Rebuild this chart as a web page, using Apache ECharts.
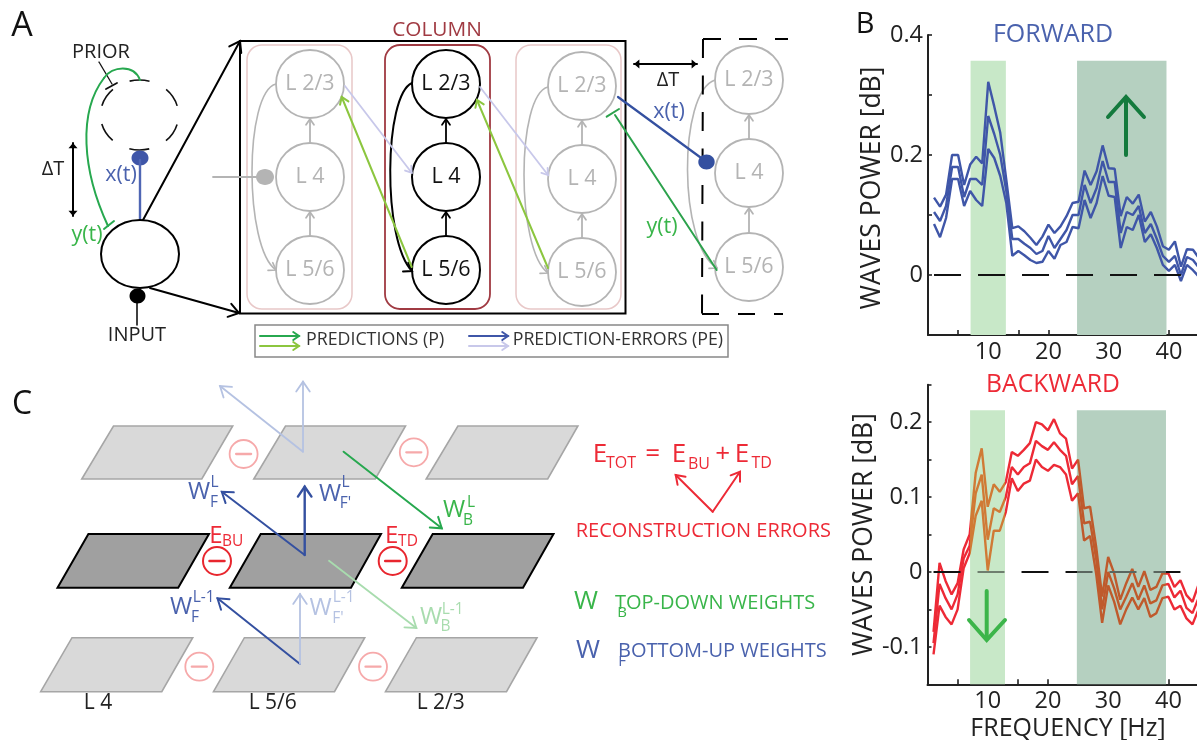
<!DOCTYPE html>
<html><head><meta charset="utf-8">
<style>html,body{margin:0;padding:0;background:#fff}#c{width:1197px;height:740px}</style>
<script src="https://cdn.jsdelivr.net/npm/echarts@6/dist/echarts.min.js"></script>
</head><body><div id="c"></div>
<script>
const hz=[1,2,3,4,5,6,7,8,9,10,11,12,13,14,15,16,17,18,19,20,21,22,23,24,25,26,27,28,29,30,31,32,33,34,35,36,37,38,39,40,41,42,43,44,45];
const forwardUpper=[.129,.114,.134,.2,.2,.15,.184,.197,.186,.322,.281,.237,.159,.078,.081,.073,.062,.05,.064,.084,.07,.081,.098,.12,.122,.174,.15,.173,.216,.178,.177,.098,.13,.119,.134,.089,.105,.081,.048,.042,.056,.014,.043,.042,.028];
const forwardMean=[.105,.09,.115,.18,.18,.13,.16,.16,.15,.265,.235,.2,.14,.06,.06,.052,.045,.035,.04,.065,.045,.06,.075,.1,.1,.15,.12,.145,.19,.155,.155,.07,.105,.1,.115,.07,.085,.06,.032,.022,.032,0,.03,.025,.012];
const forwardLower=[.085,.063,.095,.16,.16,.115,.14,.125,.115,.21,.195,.165,.12,.032,.04,.033,.025,.02,.022,.04,.027,.05,.055,.08,.078,.125,.095,.12,.165,.132,.13,.045,.08,.075,.1,.055,.068,.045,.017,.007,.017,-.01,.017,.008,-.003];
const backwardUpper=[-.08,.012,-.012,-.03,-.015,.03,.05,.132,.165,.087,.117,.107,.12,.16,.155,.163,.172,.2,.197,.189,.204,.185,.178,.138,.15,.085,.087,.034,-.033,.02,-.002,-.037,-.015,.004,-.02,.001,-.024,-.02,-.002,-.002,-.02,-.011,-.031,-.04,-.017];
const backwardMean=[-.095,-.016,-.035,-.05,-.03,.018,.035,.105,.13,.043,.085,.08,.1,.14,.13,.14,.145,.175,.168,.163,.173,.163,.155,.117,.128,.065,.067,.018,-.05,0,-.022,-.05,-.033,-.015,-.037,-.018,-.042,-.038,-.018,-.016,-.034,-.025,-.048,-.055,-.035];
const backwardLower=[-.11,-.045,-.06,-.07,-.05,.005,.025,.075,.095,.002,.055,.055,.08,.125,.108,.118,.122,.15,.14,.135,.143,.14,.13,.095,.105,.042,.048,-.002,-.068,-.018,-.04,-.07,-.05,-.034,-.05,-.035,-.06,-.055,-.035,-.033,-.05,-.045,-.062,-.07,-.05];
const zeroLine=[[1,0],[42,0]];
const forwardBands=[[7.07,12.93],[24.75,39.6]], forwardBandTop=.357;
const backwardBands=[[7.07,12.87],[24.8,39.6]], backwardBandTop=.216;
const forwardTicks=['0.4','0.2','0'], backwardTicks=['0.2','0.1','0','-0.1'], hzTicks=['10','20','30','40'];

const FONT='"Open Sans"',BLUE='#3f56a8',TBLUE='#4a62ad',PBLUE='#b5c2e2',LAV='#c8c8ea',GREEN='#27a84f',TGREEN='#39b54a',LIME='#8cc63f',GREY='#b4b4b4',PINK='#e8c8c8',MAROON='#a03a42',RED='#ed2a36',PALE='#a8dcae',PRED='#f6a9aa';
const els=[];
const S=(stroke,w,dash)=>({stroke,lineWidth:w||2,fill:'none',lineDash:dash||null,lineCap:'round'});
function line(x1,y1,x2,y2,c,w,dash){els.push({type:'line',silent:true,shape:{x1,y1,x2,y2},style:S(c,w,dash)});}
function poly(p,c,w,dash){els.push({type:'polyline',silent:true,shape:{points:p},style:Object.assign(S(c,w,dash),dash?{lineCap:'butt'}:{})});}
function head(x,y,a,c,w,s){s=s||9;const b=.6;poly([[x-s*Math.cos(a-b),y-s*Math.sin(a-b)],[x,y],[x-s*Math.cos(a+b),y-s*Math.sin(a+b)]],c,w);}
function arrow(x1,y1,x2,y2,c,w,s){line(x1,y1,x2,y2,c,w);head(x2,y2,Math.atan2(y2-y1,x2-x1),c,w,s);}
function dbl(x1,y1,x2,y2){line(x1,y1,x2,y2,'#000',2);const a=Math.atan2(y2-y1,x2-x1),v=7;
 els.push({type:'polygon',silent:true,shape:{points:[[x2,y2],[x2-v*Math.cos(a-.7),y2-v*Math.sin(a-.7)],[x2-v*Math.cos(a+.7),y2-v*Math.sin(a+.7)]]},style:{fill:'#000'}});
 els.push({type:'polygon',silent:true,shape:{points:[[x1,y1],[x1+v*Math.cos(a-.7),y1+v*Math.sin(a-.7)],[x1+v*Math.cos(a+.7),y1+v*Math.sin(a+.7)]]},style:{fill:'#000'}});}
function curve(x1,y1,cx1,cy1,cx2,cy2,x2,y2,c,w){els.push({type:'bezierCurve',silent:true,shape:{x1,y1,x2,y2,cpx1:cx1,cpy1:cy1,cpx2:cx2,cpy2:cy2},style:S(c,w)});}
function ell(cx,cy,rx,ry,stroke,w,fill,dash,off){els.push({type:'ellipse',silent:true,shape:{cx,cy,rx,ry},style:{stroke:stroke||'none',lineWidth:w||0,fill:fill||'none',lineDash:dash||null,lineDashOffset:off||0}});}
function rrect(x,y,width,height,r,c,w){els.push({type:'rect',silent:true,shape:{x,y,width,height,r},style:{stroke:c,lineWidth:w,fill:'none'}});}
function para(p,fill,stroke,w){els.push({type:'polygon',silent:true,shape:{points:p},style:{fill,stroke,lineWidth:w,lineJoin:'miter'}});}
function txt(x,y,text,size,fill,align){els.push({type:'text',silent:true,x,y,style:{text,fill,font:size+'px '+FONT,align:align||'center',verticalAlign:'middle'}});}
function minus(cx,cy,c,w){ell(cx,cy,14,14,c,w,'#fff');line(cx-7.5,cy,cx+7.5,cy,c,w+.5);}

/* panel letters */
txt(22,26,'A',34,'#111');txt(865,25,'B',29,'#111');txt(22,405,'C',32,'#111');
/* panel A, left neuron pair */
txt(101,52,'PRIOR',20,'#222');
ell(139.5,115,39,35,'#111',1.6,'none',[20,18.77],29.4);
line(99,62,112,84,'#111',1.3);line(106,89,117,83,'#111',1.8);
curve(140,80,134,64,112,66,104,78,GREEN,2);curve(104,78,78,112,82,170,108,226,GREEN,2);line(104,229,114,221,GREEN,2);
ell(140,158,8.5,7.5,null,0,BLUE);line(140,160,140,220,'#4f66b4',2.4);
txt(121,175,'x(t)',21.5,TBLUE);txt(53,169,'ΔT',20,'#222');dbl(73,143,73,216);txt(87,235,'y(t)',21.5,TGREEN);
ell(140,254,39,34,'#000',2,'#fff');
ell(137.5,296,8,7.5,null,0,'#000');line(137,300,137,325,'#000',1.5);txt(137,335,'INPUT',20,'#222');
arrow(143,220,240,41,'#000',2,12);arrow(150,288,239,313,'#000',2,12);
/* panel A, columns */
rrect(240,41,385.5,272.5,0,'#000',2);
rrect(247,45,105,264,15,PINK,1.5);rrect(385,45,105,264,15,MAROON,1.8);rrect(516,45,105,264,15,PINK,1.5);
txt(437,30,'COLUMN',20.8,MAROON);
function column(cx,ys,c,tc,w){
 [['L 2/3',0],['L 4',1],['L 5/6',2]].forEach(([t,i])=>{ell(cx,ys[i],34,34,c,w,'#fff');txt(cx,ys[i],t,21.5,tc);});
 arrow(cx,ys[2]-34,cx,ys[1]+35,c,1.8,7);arrow(cx,ys[1]-34,cx,ys[0]+35,c,1.8,7);
}
column(310,[84,177,270],GREY,GREY,1.8);column(446,[84,177,270],'#000','#111',2);column(582,[86,179,272],GREY,GREY,1.8);column(749,[80,173,267],GREY,GREY,1.8);
line(213,177,265,177,GREY,1.8);ell(265,177,9,8,null,0,GREY);
curve(276,84,244,92,244,248,276,270,GREY,1.6);head(276,270,.55,GREY,1.6,8);
curve(412,83,384,95,382,240,412,271,'#000',2);head(412,271,.55,'#000',2,9);
curve(548,87,516,95,516,250,548,273,GREY,1.6);head(548,273,.55,GREY,1.6,8);
curve(715,80,678,92,678,245,717,268,GREY,1.6);head(717,268,.55,GREY,1.6,8);
arrow(345,86,411.7,172.7,LAV,1.8,7);arrow(480,87,548,175,LAV,1.8,7);
arrow(411.7,267,341.7,97,LIME,2,8);arrow(548,268,477,100,LIME,2,8);
/* panel A, next time step */
poly([[703,39],[788,39]],'#000',2,[18,18]);poly([[703,39],[702,314]],'#000',2,[19,17.5]);poly([[702,314],[783,314]],'#000',2,[17,19]);
dbl(634,64,697,64);txt(668,80,'ΔT',20,'#222');
line(618,97,706.7,162,'#3450a0',2.2);ell(706.5,162,8.2,7.5,null,0,'#3450a0');
txt(669,112,'x(t)',21.5,TBLUE);txt(662,227,'y(t)',21.5,TGREEN);
line(716.7,270,615,115,'#2ca24c',2);line(606.7,116.7,619,109,'#2ca24c',2);
/* legend */
els.push({type:'rect',silent:true,shape:{x:255,y:325,width:473,height:32},style:{stroke:'#888',lineWidth:1.5,fill:'#fff'}});
arrow(260,336,299,336,GREEN,2,7);arrow(260,346,299,346,LIME,2,7);arrow(469,336,508,336,BLUE,2,7);arrow(469,346,508,346,LAV,2,7);
txt(306,339.5,'PREDICTIONS (P)',17.8,'#333','left');txt(512.7,339.5,'PREDICTION-ERRORS (PE)',17.8,'#333','left');
/* panel C */
const rows=[[426,479,[[81.8,113.5,232.7,201.8],[253.8,285.5,405.5,375.3],[426.2,457.9,577.9,547.7]],'#d9d9d9','#a6a6a6',1.6],
 [534,587.7,[[57.5,88.4,209,178.2],[229.8,260.7,381,351],[401.8,432.7,553.5,523]],'#a0a0a0','#000',2],
 [637.7,691.7,[[40.7,72,192.7,161.8],[213.5,244.4,364.7,334.5],[385.5,416.4,537,506.5]],'#d9d9d9','#a6a6a6',1.6]];
rows.forEach(r=>r[2].forEach(p=>para([[p[0],r[1]],[p[1],r[0]],[p[2],r[0]],[p[3],r[1]]],r[3],r[4],r[5])));
minus(243.6,454,PRED,1.8);minus(413.8,452.3,PRED,1.8);minus(217,561,'#e8262e',2);minus(392.7,561,'#e8262e',2);minus(199.3,666.7,PRED,1.8);minus(373,666.7,PRED,1.8);
arrow(303,451.7,220,386,PBLUE,1.8,12);arrow(303,451.7,303,381.7,PBLUE,1.8,12);
arrow(343.6,451.7,441.8,528.3,GREEN,2,12);
arrow(304.7,555,221.8,491.7,'#3450a0',2,12);arrow(304.7,555,304.7,486.7,'#3450a0',2.4,12);
arrow(329,560.7,416.4,628,PALE,1.8,12);
arrow(300,664,217.5,598.3,'#3450a0',2,12);arrow(300,664,300,594,PBLUE,1.8,12);
function wl(x,y,c,sx,sy,sup,bx,by,sub){txt(x,y,'W',24,c);txt(sx,sy,sup,15.5,c);txt(bx,by,sub,15.5,c);}
wl(199,491.7,TBLUE,214.5,483,'L',214,503,'F');wl(330,494,TBLUE,345.5,482.7,'L',345.5,504,"F'");
wl(454,510,TGREEN,471,503,'L',468,520.7,'B');wl(181,607,TBLUE,203.6,598,'L-1',195,618,'F');
wl(320.7,608,PBLUE,343.6,598,'L-1',338,619,"F'");wl(431,617,PALE,452.7,610,'L-1',445.5,627,'B');
txt(216,535.7,'E',24,RED);txt(232.7,542,'BU',15.5,RED);txt(391.6,535.7,'E',24,RED);txt(408,542,'TD',15.5,RED);
txt(98,702.7,'L 4',21,'#222');txt(272.7,702.7,'L 5/6',21,'#222');txt(440.7,702.7,'L 2/3',21,'#222');
txt(600,455,'E',26,RED);txt(621,463,'TOT',16,RED);txt(652.7,455,'=',26,RED);txt(679,455,'E',26,RED);txt(699,464,'BU',16,RED);txt(722.7,455,'+',26,RED);txt(742,455,'E',26,RED);txt(761.7,463,'TD',16,RED);
arrow(712.7,511.7,675.7,475,RED,2,10);arrow(712.7,511.7,740,471.7,RED,2,10);
txt(575.7,531,'RECONSTRUCTION ERRORS',20,RED,'left');
txt(586,601.7,'W',26,TGREEN);txt(622,612.7,'B',15,TGREEN);txt(615,603,'TOP-DOWN WEIGHTS',20,TGREEN,'left');
txt(588,650.7,'W',26,TBLUE);txt(622,661.7,'F',15,TBLUE);txt(618,651.7,'BOTTOM-UP WEIGHTS',20,TBLUE,'left');
/* chart titles and direction arrows */
txt(1053,35,'FORWARD',25,TBLUE);txt(1053,385,'BACKWARD',24.7,RED);
line(1126,155,1126,99,'#147a3d',4);poly([[1108,117],[1126,97],[1144,117]],'#147a3d',4);
line(986.7,591,986.7,638,'#3cb54a',4);poly([[969,620],[986.7,640],[1005,620]],'#3cb54a',4);
els.forEach(e=>{e.z=10;});

const pair=(v)=>hz.map((h,i)=>[h,v[i]]);
const lineS=(v,c,xi)=>({type:'line',xAxisIndex:xi,yAxisIndex:xi,data:pair(v),symbol:'none',silent:true,lineStyle:c?{color:c,width:2.4}:{width:2.4},z:2});
const bandS=(xi,b,top,bot)=>({type:'line',xAxisIndex:xi,yAxisIndex:xi,data:[],silent:true,
 markArea:{silent:true,data:[[{xAxis:b[0][0],yAxis:bot,itemStyle:{color:'#c8e8c8'}},{xAxis:b[0][1],yAxis:top}],[{xAxis:b[1][0],yAxis:bot,itemStyle:{color:'#b5d0c0'}},{xAxis:b[1][1],yAxis:top}]]}});
const dashS=(xi,c)=>({type:'line',xAxisIndex:xi,yAxisIndex:xi,data:zeroLine,symbol:'none',silent:true,z:3,lineStyle:c?{color:c,width:2,type:[27,17]}:{width:2,type:[27,17]}});
const xA=(i,name)=>({type:'value',gridIndex:i,min:0,max:45,interval:5,splitLine:{show:false},
 axisLine:{onZero:false,lineStyle:{color:'#222',width:2}},axisTick:{inside:true,length:5,lineStyle:{color:'#222',width:1.6}},
 axisLabel:{fontFamily:FONT,fontSize:23.5,color:'#222',margin:5,showMinLabel:false,showMaxLabel:false,formatter:v=>hzTicks.includes(String(v))?String(v):''},
 name:name||'',nameLocation:'middle',nameGap:32,nameTextStyle:{fontFamily:FONT,fontSize:25,color:'#222',padding:[0,0,0,10]}});
const yA=(i,ticks,min,max,int,gap,pad)=>({type:'value',gridIndex:i,min,max,interval:int,splitLine:{show:false},
 axisLine:{onZero:false,lineStyle:{color:'#222',width:2}},axisTick:{inside:true,length:4,lineStyle:{color:'#222',width:1.6}},
 axisLabel:{fontFamily:FONT,fontSize:23.5,color:'#222',margin:5,showMinLabel:true,formatter:v=>{const s=String(Math.round(v*100)/100);return ticks.includes(s)?s:'';}},
 name:'WAVES POWER [dB]',nameLocation:'middle',nameGap:gap,nameTextStyle:{fontFamily:FONT,fontSize:26.5,color:'#222',padding:[0,pad,0,0]}});
const piecesFor=(b,out,inA,inB)=>[{lt:b[0][0],color:out},{gte:b[0][0],lte:b[0][1],color:inA},{gt:b[0][1],lt:b[1][0],color:out},{gte:b[1][0],lte:b[1][1],color:inB},{gt:b[1][1],color:out}];

const chart=echarts.init(document.getElementById('c'),null,{renderer:'canvas'});
chart.setOption({animation:false,backgroundColor:'#fff',
 grid:[{left:928,top:35,height:300,width:271,outerBoundsMode:'none'},{left:927.5,top:384.7,height:299.6,width:271,outerBoundsMode:'none'}],
 xAxis:[xA(0),xA(1,'FREQUENCY [Hz]')],
 yAxis:[yA(0,forwardTicks,-.1,.4,.1,28,6),yA(1,backwardTicks,-.15,.25,.05,28,0)],
 visualMap:[{type:'piecewise',show:false,dimension:0,seriesIndex:[7,8,9],pieces:piecesFor(backwardBands,RED,'#d07a35','#bf5a2c')},
  {type:'piecewise',show:false,dimension:0,seriesIndex:[6],pieces:piecesFor(backwardBands,'#111','#6f7f6f','#5a665f')}],
 series:[bandS(0,forwardBands,forwardBandTop,-.1),dashS(0,'#111'),lineS(forwardUpper,BLUE,0),lineS(forwardMean,BLUE,0),lineS(forwardLower,BLUE,0),
  bandS(1,backwardBands,backwardBandTop,-.15),dashS(1),lineS(backwardUpper,null,1),lineS(backwardMean,null,1),lineS(backwardLower,null,1)],
 graphic:{elements:els}});
</script></body></html>
